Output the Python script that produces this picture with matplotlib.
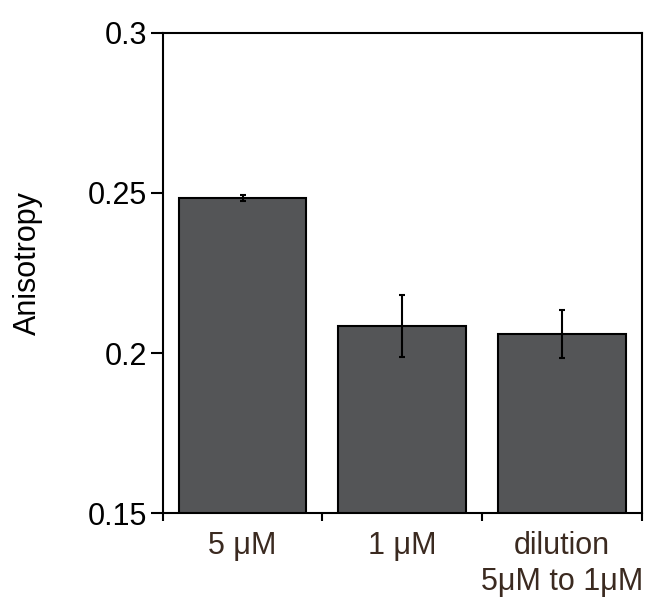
import matplotlib
matplotlib.use('Agg')
import matplotlib.pyplot as plt
import numpy as np

# values
conditions = ['5 \u03bcM', '1 \u03bcM', 'dilution\n5\u03bcM to 1\u03bcM']
anisotropy = [0.2484, 0.2085, 0.2060]
errors = [0.0008, 0.0096, 0.0076]
yticks = [0.15, 0.2, 0.25, 0.3]
ytick_labels = ['0.15', '0.2', '0.25', '0.3']

plt.rcParams['font.family'] = ['Liberation Sans', 'DejaVu Sans']

fig = plt.figure(figsize=(6.49, 6.01), dpi=100)
ax = fig.add_axes([0.2507, 0.1459, 0.7381, 0.7997])

x = np.arange(len(conditions))
ax.bar(x, anisotropy, width=0.8, color='#545557', edgecolor='black',
       linewidth=1.5, zorder=2)
ax.errorbar(x, anisotropy, yerr=errors, fmt='none', ecolor='black',
            elinewidth=1.5, capsize=2.5, capthick=1.5, zorder=3)

ax.set_xlim(-0.5, 2.5)
ax.set_ylim(0.15, 0.3)

ax.set_yticks(yticks)
ax.set_yticklabels(ytick_labels, fontsize=22)
ax.tick_params(axis='y', direction='out', length=9, width=1.5, pad=2)

ax.set_xticks(x)
ax.set_xticklabels(conditions, fontsize=22, color='#3b2a20', linespacing=1.25)
ax.tick_params(axis='x', which='major', length=0, pad=13)
ax.set_xticks([-0.5, 0.5, 1.5, 2.5], minor=True)
ax.tick_params(axis='x', which='minor', direction='out', length=6, width=1.5)

for s in ax.spines.values():
    s.set_linewidth(1.5)

ax.set_ylabel('Anisotropy', fontsize=22)
ax.yaxis.set_label_coords(-0.25, 0.52)

fig.savefig('out.png', dpi=100)
